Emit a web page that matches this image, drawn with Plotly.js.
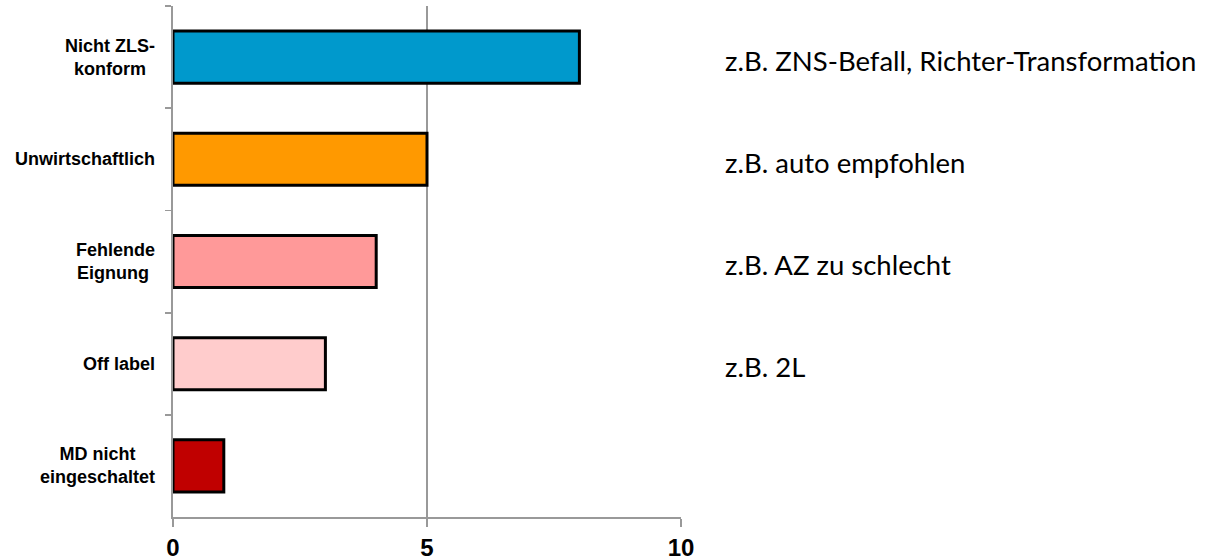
<!DOCTYPE html>
<html>
<head>
<meta charset="utf-8">
<script src="https://cdn.plot.ly/plotly-3.0.1.min.js"></script>
<style>
  html, body { margin: 0; padding: 0; background: #fff; }
  #chart { width: 1229px; height: 560px; }
</style>
</head>
<body>
<div id="chart"></div>
<script>
// Data
var categories = ["Nicht ZLS-konform", "Unwirtschaftlich", "Fehlende Eignung", "Off label", "MD nicht eingeschaltet"];
var labelText = ["Nicht ZLS-<br>konform", "Unwirtschaftlich", "Fehlende<br>Eignung ", "Off label", "MD nicht<br>eingeschaltet"];
var values = [8, 5, 4, 3, 1];
var barColors = ["#0099CC", "#FF9900", "#FF9999", "#FFCCCC", "#C00000"];
var notes = ["z.B. ZNS-Befall, Richter-Transformation", "z.B. auto empfohlen", "z.B. AZ zu schlecht", "z.B. 2L", ""];
var xTicks = [0, 5, 10];

var trace = {
  type: "bar",
  orientation: "h",
  y: categories,
  x: values,
  width: 0.51,
  marker: { color: barColors, line: { color: "#000000", width: 3 } },
  hoverinfo: "none"
};

var annotations = [];
categories.forEach(function (c, i) {
  annotations.push({
    xref: "paper", yref: "y", x: 0, y: c,
    xanchor: "right", yanchor: "middle", xshift: -16,
    text: labelText[i], showarrow: false, align: "center",
    font: { family: "Liberation Sans, Arial, sans-serif", size: 18, color: "#000", weight: "bold" }
  });
  if (notes[i]) {
    annotations.push({
      xref: "paper", yref: "y", x: 1, y: c,
      xanchor: "left", yanchor: "middle", xshift: 42, yshift: -3,
      text: notes[i], showarrow: false, align: "left",
      font: { family: "Lato, sans-serif", size: 27.5, color: "#000" }
    });
  }
});

var layout = {
  width: 1229, height: 560,
  margin: { l: 173, r: 548, t: 6, b: 43 },
  paper_bgcolor: "#fff", plot_bgcolor: "#fff",
  showlegend: false,
  xaxis: {
    range: [0, 10],
    tickvals: xTicks,
    ticktext: xTicks.map(String),
    showgrid: true, gridcolor: "#999999", gridwidth: 1.8,
    zeroline: false,
    showline: true, linecolor: "#999999", linewidth: 1.8,
    ticks: "outside", ticklen: 8, tickcolor: "#999999", tickwidth: 1.8,
    tickfont: { family: "Liberation Sans, Arial, sans-serif", size: 24, color: "#000", weight: "bold" },
    fixedrange: true
  },
  yaxis: {
    type: "category",
    categoryorder: "array", categoryarray: categories,
    autorange: "reversed",
    range: [4.5, -0.5],
    showticklabels: false,
    showgrid: false, zeroline: false,
    showline: true, linecolor: "#999999", linewidth: 1.8,
    ticks: "outside", ticklen: 6, tickcolor: "#999999", tickwidth: 1.8,
    tickson: "boundaries",
    fixedrange: true
  },
  annotations: annotations
};

Plotly.newPlot("chart", [trace], layout, { displayModeBar: false, staticPlot: true });
</script>
</body>
</html>
